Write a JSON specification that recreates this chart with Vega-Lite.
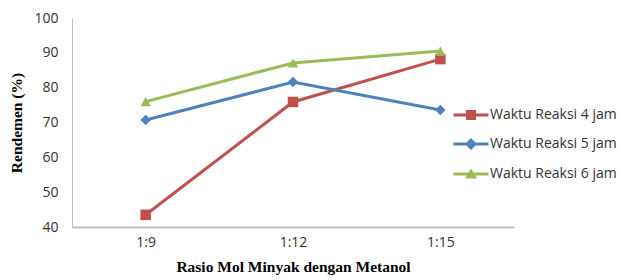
{
  "$schema": "https://vega.github.io/schema/vega-lite/v6.json",
  "width": 442,
  "height": 209,
  "autosize": "none",
  "padding": {"left": 72, "top": 18, "right": 106, "bottom": 53},
  "background": "white",
  "config": {"view": {"stroke": null}},
  "data": {
    "values": [
      {"rasio": "1:9", "series": "Waktu Reaksi 4 jam", "rendemen": 43.5},
      {"rasio": "1:12", "series": "Waktu Reaksi 4 jam", "rendemen": 75.9},
      {"rasio": "1:15", "series": "Waktu Reaksi 4 jam", "rendemen": 88.2},
      {"rasio": "1:9", "series": "Waktu Reaksi 5 jam", "rendemen": 70.7},
      {"rasio": "1:12", "series": "Waktu Reaksi 5 jam", "rendemen": 81.6},
      {"rasio": "1:15", "series": "Waktu Reaksi 5 jam", "rendemen": 73.6},
      {"rasio": "1:9", "series": "Waktu Reaksi 6 jam", "rendemen": 76.0},
      {"rasio": "1:12", "series": "Waktu Reaksi 6 jam", "rendemen": 87.1},
      {"rasio": "1:15", "series": "Waktu Reaksi 6 jam", "rendemen": 90.5}
    ]
  },
  "encoding": {
    "x": {
      "field": "rasio", "type": "ordinal", "sort": ["1:9", "1:12", "1:15"],
      "scale": {"paddingInner": 0, "paddingOuter": 0},
      "axis": {
        "title": "Rasio Mol Minyak dengan Metanol",
        "titleFont": "Liberation Serif", "titleFontSize": 15.5, "titleFontWeight": "bold", "titleColor": "#000000",
        "titlePadding": 10,
        "labelAngle": 0, "labelFont": "Open Sans", "labelFontSize": 14, "labelColor": "#333333",
        "labelPadding": 8, "ticks": false,
        "domainColor": "#bfbfbf", "domainWidth": 2, "grid": false
      }
    },
    "y": {
      "field": "rendemen", "type": "quantitative",
      "scale": {"domain": [40, 100], "nice": false, "zero": false},
      "axis": {
        "title": "Rendemen (%)",
        "titleFont": "Liberation Serif", "titleFontSize": 15.5, "titleFontWeight": "bold", "titleColor": "#000000",
        "titlePadding": 9,
        "values": [40, 50, 60, 70, 80, 90, 100],
        "labelFont": "Open Sans", "labelFontSize": 14, "labelColor": "#333333",
        "labelPadding": 14, "ticks": false,
        "domainColor": "#bfbfbf", "domainWidth": 1, "grid": false
      }
    }
  },
  "layer": [
    {
      "mark": {"type": "line", "strokeWidth": 3},
      "encoding": {
        "color": {
          "field": "series", "type": "nominal",
          "scale": {"domain": ["Waktu Reaksi 4 jam", "Waktu Reaksi 5 jam", "Waktu Reaksi 6 jam"], "range": ["#C0504D", "#4F81BD", "#9BBB59"]},
          "legend": null
        }
      }
    },
    {
      "mark": {"type": "point", "filled": true, "opacity": 1, "size": 110},
      "encoding": {
        "color": {"field": "series", "type": "nominal", "legend": null},
        "shape": {
          "field": "series", "type": "nominal",
          "scale": {"domain": ["Waktu Reaksi 4 jam", "Waktu Reaksi 5 jam", "Waktu Reaksi 6 jam"], "range": ["square", "diamond", "triangle-up"]},
          "legend": null
        }
      }
    },
    {
      "mark": {"type": "point", "filled": true, "opacity": 0, "size": 400},
      "encoding": {
        "color": {
          "field": "series", "type": "nominal",
          "legend": {
            "orient": "none", "legendX": 388, "legendY": 86, "title": null, "padding": 0,
            "symbolSize": 400, "symbolOpacity": 1, "rowPadding": 10,
            "labelFont": "Open Sans", "labelFontSize": 14, "labelColor": "#333333", "labelOffset": 8
          }
        },
        "shape": {
          "field": "series", "type": "nominal",
          "scale": {
            "domain": ["Waktu Reaksi 4 jam", "Waktu Reaksi 5 jam", "Waktu Reaksi 6 jam"],
            "range": [
              "M-1.75,-0.15H1.75V0.15H-1.75Z M-0.5,-0.5H0.5V0.5H-0.5Z",
              "M-1.75,-0.15H1.75V0.15H-1.75Z M0,-0.6L0.6,0L0,0.6L-0.6,0Z",
              "M-1.75,-0.15H1.75V0.15H-1.75Z M0,-0.55L0.6,0.45H-0.6Z"
            ]
          },
          "legend": {
            "orient": "none", "legendX": 388, "legendY": 86, "title": null, "padding": 0,
            "symbolSize": 400, "symbolOpacity": 1, "rowPadding": 10,
            "labelFont": "Open Sans", "labelFontSize": 14, "labelColor": "#333333", "labelOffset": 8
          }
        }
      }
    }
  ],
  "resolve": {"scale": {"shape": "independent"}, "legend": {"shape": "independent", "color": "independent"}}
}
